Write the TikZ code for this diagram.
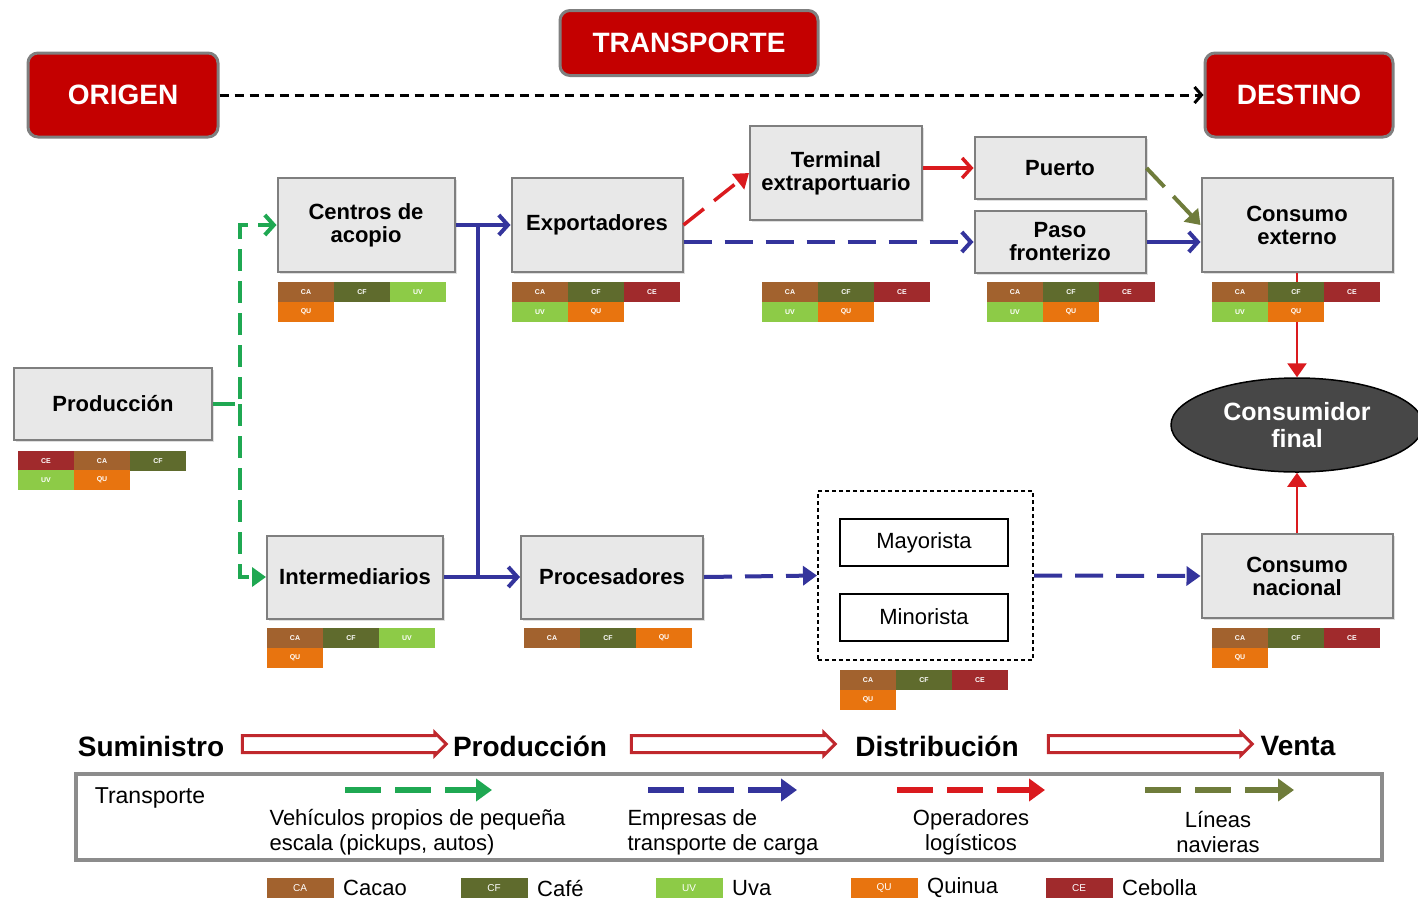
\documentclass[tikz,border=0pt]{standalone}
\usepackage{fontspec}
\setmainfont{Liberation Sans}
\usetikzlibrary{arrows.meta,shapes.geometric,shapes.arrows,shadows}

\definecolor{CA}{HTML}{A2622E}
\definecolor{CF}{HTML}{5F6B2D}
\definecolor{UV}{HTML}{8DCB47}
\definecolor{QU}{HTML}{E8740F}
\definecolor{CE}{HTML}{A02A2C}
\definecolor{rojotitulo}{HTML}{C40000}
\definecolor{grisborde}{HTML}{7F7F7F}
\definecolor{fondocaja}{HTML}{E8E8E8}
\definecolor{verdeveh}{HTML}{1FA852}
\definecolor{azulcarga}{HTML}{34349C}
\definecolor{rojolog}{HTML}{DA1A1E}
\definecolor{olivanav}{HTML}{6F7C3B}
\definecolor{rojoflujo}{HTML}{C0282D}

\tikzset{
  titulo/.style={draw=grisborde, line width=3pt, fill=rojotitulo, rounded corners=10pt,
    text=white, font=\fontsize{28}{30}\selectfont\bfseries},
  caja/.style={draw=grisborde, line width=2pt, fill=fondocaja, align=center, inner sep=0pt,
    font=\fontsize{22}{23}\selectfont\bfseries,
    drop shadow={opacity=0.25, shadow xshift=2pt, shadow yshift=-2pt}},
  canal/.style={draw=black, line width=2pt, fill=white, minimum width=168pt, minimum height=47pt,
    font=\fontsize{22}{24}\selectfont},
  etiq/.style={minimum width=56pt, minimum height=19.5pt, inner sep=0pt,
    text=white, font=\fontsize{7}{7}\selectfont\bfseries},
  etapa/.style={font=\fontsize{28}{30}\selectfont\bfseries},
  flujo/.style={single arrow, draw=rojoflujo, fill=white, line width=3pt, inner xsep=0pt,
    inner ysep=7pt, single arrow head extend=3pt, minimum height=204pt},
  leyenda/.style={font=\fontsize{22}{25}\selectfont},
  verde/.style={draw=verdeveh, line width=4pt, dash pattern=on 22pt off 10pt},
  azul/.style={draw=azulcarga, line width=4pt},
  azuldash/.style={azul, dash pattern=on 28pt off 13pt},
  rojo/.style={draw=rojolog, line width=3.5pt},
  rojodash/.style={rojo, dash pattern=on 26pt off 13pt},
  oliva/.style={draw=olivanav, line width=4pt, dash pattern=on 26pt off 13pt},
  barb/.style={-{Straight Barb[length=9pt,width=20pt]}},
  tri/.style={-{Triangle[length=14pt,width=19pt]}},
  muestra/.style={line width=6pt, dash pattern=on 36pt off 14pt, -{Triangle[length=16pt,width=22pt]}}
}

% fila de etiquetas de productos
\newcommand{\fila}[3]{%
  \foreach \c [count=\i from 0] in {#3}
    \node[etiq,fill=\c] (e-#1-#2-\i) at ({#1+28+56*\i},#2) {\c};}

\begin{document}
\begin{tikzpicture}[x=1pt,y=-1pt,>=Triangle]
\useasboundingbox (0,0) rectangle (1418,900);

%Titulos
\node[titulo, minimum width=190pt, minimum height=84pt] (origen) at (123,95) {ORIGEN};
\node[titulo, minimum width=258pt, minimum height=65pt] (transp) at (689,43) {TRANSPORTE};
\node[titulo, minimum width=188pt, minimum height=84pt] (destino) at (1299,95) {DESTINO};
\draw[line width=3pt, dash pattern=on 9pt off 6pt, -{Straight Barb[length=7pt,width=16pt]}]
  (origen.east) -- (destino.west);

%Cajas
\node[caja, minimum width=177pt, minimum height=94pt] (centros) at (366,225) {Centros de\\acopio};
\node[caja, minimum width=171pt, minimum height=94pt] (export) at (597,225) {Exportadores};
\node[caja, minimum width=172pt, minimum height=94pt] (terminal) at (836,173) {Terminal\\extraportuario};
\node[caja, minimum width=171pt, minimum height=62pt] (puerto) at (1060,168) {Puerto};
\node[caja, minimum width=171pt, minimum height=62pt] (paso) at (1060,242) {Paso\\fronterizo};
\node[caja, minimum width=191pt, minimum height=94pt] (cext) at (1297,225) {Consumo\\externo};
\node[caja, minimum width=198pt, minimum height=72pt] (prod) at (113,404) {Producción};
\node[caja, minimum width=176pt, minimum height=83pt] (interm) at (355,577) {Intermediarios};
\node[caja, minimum width=182pt, minimum height=83pt] (proces) at (612,577) {Procesadores};
\node[caja, minimum width=191pt, minimum height=84pt] (cnac) at (1297,576) {Consumo\\nacional};
\node[ellipse, draw=black, line width=1.5pt, fill=black!72, minimum width=252pt, minimum height=94pt,
  align=center, text=white, font=\fontsize{25}{27}\selectfont\bfseries] (final) at (1297,425) {Consumidor\\final};

%Distribucion
\node[draw=black, line width=2pt, dash pattern=on 4pt off 3pt, minimum width=215pt,
  minimum height=169pt] (dist) at (925.5,575.5) {};
\node[canal] (mayor) at (924,542.5) {Mayorista};
\node[canal] (minor) at (924,617) {Minorista};

%Conexiones
\coordinate (gv) at (240,404);
\draw[verde, barb] (prod.east) -- (gv) |- (centros.west);
\draw[verde, tri] (gv) |- (interm.west);
\coordinate (b1) at (478,225);
\coordinate (b2) at (478,577);
\draw[azul, barb] (centros.east) -- (export.west);
\draw[azul, barb] (interm.east) -- (proces.west);
\draw[azul] (b1) -- (b2);
\draw[rojodash, tri] (export.east) -- (terminal.west);
\draw[azuldash, barb] (export.east |- paso.west) -- (paso.west);
\draw[rojo, barb] (terminal.east |- puerto.west) -- (puerto.west);
\draw[oliva, tri] (puerto.east) -- (cext.west);
\draw[azul, barb] (paso.east) -- (cext.west |- paso.east);
\draw[rojo, line width=2.5pt, tri] (cext.south) -- (final.north);
\draw[rojo, line width=2.5pt, tri] (cnac.north) -- (final.south);
\draw[azuldash, tri] (proces.east) -- (dist.west);
\draw[azuldash, tri] (dist.east) -- (cnac.west);

%Etiquetas
\fila{278}{292}{CA,CF,UV} \fila{278}{312}{QU}
\fila{512}{292}{CA,CF,CE} \fila{512}{312}{UV,QU}
\fila{762}{292}{CA,CF,CE} \fila{762}{312}{UV,QU}
\fila{987}{292}{CA,CF,CE} \fila{987}{312}{UV,QU}
\fila{1212}{292}{CA,CF,CE} \fila{1212}{312}{UV,QU}
\fila{18}{461}{CE,CA,CF} \fila{18}{480}{UV,QU}
\fila{267}{638}{CA,CF,UV} \fila{267}{658}{QU}
\fila{524}{638}{CA,CF,QU}
\fila{840}{680}{CA,CF,CE} \fila{840}{700}{QU}
\fila{1212}{638}{CA,CF,CE} \fila{1212}{658}{QU}

%Etapas
\node[etapa] (sum) at (151,746) {Suministro};
\node[etapa] (etprod) at (530,746) {Producción};
\node[etapa] (etdist) at (937,746) {Distribución};
\node[etapa] (venta) at (1298,746) {Venta};
\node[flujo] (f1) at (340,744) {};
\node[flujo] (f2) at (729,744) {};
\node[flujo] (f3) at (1146,744) {};

%Leyenda
\node[draw=black!45, line width=4pt, minimum width=1306pt, minimum height=86pt] (ley) at (729,816.5) {};
\node[font=\fontsize{23}{25}\selectfont] (transley) at (150,798) {Transporte};
\coordinate (v1) at (345,790); \coordinate (v2) at (492,790);
\coordinate (a1) at (648,790); \coordinate (a2) at (797,790);
\coordinate (r1) at (897,790); \coordinate (r2) at (1045,790);
\coordinate (o1) at (1145,790); \coordinate (o2) at (1294,790);
\draw[verdeveh, muestra] (v1) -- (v2);
\draw[azulcarga, muestra] (a1) -- (a2);
\draw[rojolog, muestra] (r1) -- (r2);
\draw[olivanav, muestra] (o1) -- (o2);
\node[leyenda, align=left, anchor=west] (tveh) at (266,832) {Vehículos propios de pequeña\\escala (pickups, autos)};
\node[leyenda, align=left, anchor=west] (tcarga) at (624,832) {Empresas de\\transporte de carga};
\node[leyenda, align=center] (tlog) at (971,832) {Operadores\\logísticos};
\node[leyenda, align=center] (tnav) at (1218,832) {Líneas\\navieras};

%Productos
\foreach \c/\nom/\x in {CA/Cacao/300, CF/Café/494, UV/Uva/689, QU/Quinua/884, CE/Cebolla/1079}{
  \node[fill=\c, minimum width=67pt, minimum height=20pt, inner sep=0pt, text=white,
    font=\fontsize{10}{10}\selectfont] (k\c) at (\x,888) {\raisebox{-3pt}{\c}};
  \node[leyenda, anchor=west] (n\c) at ([xshift=6pt]k\c.east) {\nom};
}
\end{tikzpicture}
\end{document}
